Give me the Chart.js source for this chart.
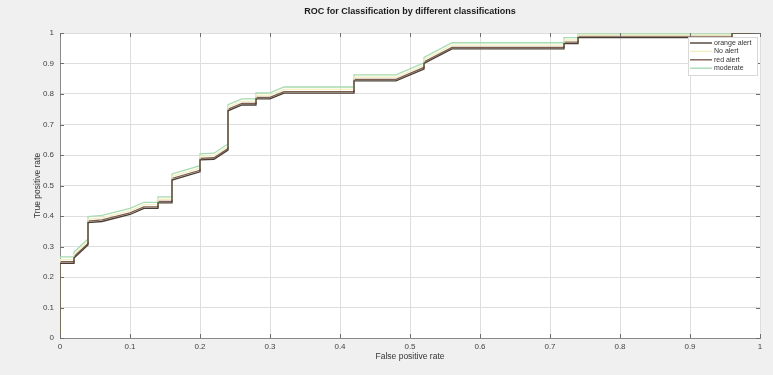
<!DOCTYPE html>
<html>
<head>
<meta charset="utf-8">
<script src="https://cdn.jsdelivr.net/npm/chart.js@4.4.1/dist/chart.umd.min.js"></script>
<style>
  html, body { margin: 0; padding: 0; background: #f0f0f0; }
  #roc { display: block; }
</style>
</head>
<body>
<canvas id="roc" width="773" height="375"></canvas>
<script>
// False positive rate breakpoints shared by the four ROC curves
const fpr = [0, 0, 0.02, 0.02, 0.04, 0.04, 0.06, 0.10, 0.12, 0.14, 0.14, 0.16, 0.16, 0.20, 0.20, 0.22, 0.24, 0.24, 0.26, 0.28,
             0.28, 0.30, 0.32, 0.42, 0.42, 0.48, 0.52, 0.52, 0.56, 0.72, 0.72, 0.74, 0.74, 0.96, 0.96, 1.0];

// True positive rate of each class
const tprOrangeAlert = [0, 0.245, 0.245, 0.262, 0.305, 0.378, 0.382, 0.405, 0.425, 0.425, 0.443, 0.443, 0.518, 0.545, 0.584, 0.586, 0.616, 0.745, 0.764, 0.764,
                        0.784, 0.784, 0.803, 0.803, 0.843, 0.843, 0.882, 0.900, 0.948, 0.948, 0.965, 0.965, 0.985, 0.985, 1.0, 1.0];
const tprNoAlert     = [0, 0.257, 0.257, 0.274, 0.317, 0.390, 0.394, 0.417, 0.437, 0.437, 0.455, 0.455, 0.530, 0.557, 0.596, 0.598, 0.628, 0.757, 0.776, 0.776,
                        0.796, 0.796, 0.815, 0.815, 0.855, 0.855, 0.894, 0.912, 0.960, 0.960, 0.977, 0.977, 0.993, 0.993, 1.0, 1.0];
const tprRedAlert    = [0, 0.250, 0.250, 0.267, 0.310, 0.383, 0.387, 0.410, 0.430, 0.430, 0.448, 0.448, 0.523, 0.550, 0.589, 0.591, 0.621, 0.750, 0.769, 0.769,
                        0.789, 0.789, 0.808, 0.808, 0.848, 0.848, 0.887, 0.905, 0.953, 0.953, 0.970, 0.970, 0.990, 0.990, 1.0, 1.0];
const tprModerate    = [0, 0.266, 0.266, 0.282, 0.325, 0.398, 0.402, 0.425, 0.445, 0.445, 0.463, 0.463, 0.538, 0.565, 0.604, 0.606, 0.636, 0.765, 0.784, 0.784,
                        0.804, 0.804, 0.823, 0.823, 0.863, 0.863, 0.902, 0.920, 0.968, 0.968, 0.985, 0.985, 0.997, 0.997, 1.0, 1.0];

const classNames = ['orange alert', 'No alert', 'red alert', 'moderate'];
const classColors = ['#4a3e34', '#f3efc2', '#7d5e4e', '#a6dcb0'];
const tickValues = [0, 0.1, 0.2, 0.3, 0.4, 0.5, 0.6, 0.7, 0.8, 0.9, 1];

const chartTitle = 'ROC for Classification by different classifications';
const xTitle = 'False positive rate';
const yTitle = 'True positive rate';

const FONT = '"Liberation Sans", Arial, Helvetica, sans-serif';

function toPoints(ys) {
  return fpr.map((x, i) => ({ x: x, y: ys[i] }));
}

const seriesValues = [tprOrangeAlert, tprNoAlert, tprRedAlert, tprModerate];
const datasets = classNames.map((name, i) => ({
  label: name,
  data: toPoints(seriesValues[i]),
  borderColor: classColors[i],
  backgroundColor: classColors[i],
  borderWidth: 1.3,
  pointRadius: 0,
  tension: 0,
  fill: false
}));

function fmtTick(v) {
  if (Math.abs(v) < 1e-9) return '0';
  if (Math.abs(v - 1) < 1e-9) return '1';
  return String(Math.round(v * 10) / 10);
}

// Figure frame: grey figure background, white axes, inward ticks, titles and legend box
const figurePlugin = {
  id: 'figureFrame',
  beforeDraw(chart) {
    const { ctx, chartArea: a } = chart;
    ctx.save();
    ctx.fillStyle = '#f0f0f0';
    ctx.fillRect(0, 0, chart.width, chart.height);
    ctx.fillStyle = '#ffffff';
    ctx.fillRect(a.left, a.top, a.right - a.left, a.bottom - a.top);
    ctx.restore();
  },
  afterDraw(chart) {
    const { ctx, chartArea: a, scales } = chart;
    ctx.save();
    // inward tick marks on all four sides
    ctx.strokeStyle = '#6e6e6e';
    ctx.lineWidth = 1;
    const tl = 4;
    tickValues.forEach(v => {
      const px = Math.round(scales.x.getPixelForValue(v)) + 0.5;
      const py = Math.round(scales.y.getPixelForValue(v)) + 0.5;
      ctx.beginPath();
      ctx.moveTo(px, a.bottom); ctx.lineTo(px, a.bottom - tl);
      ctx.moveTo(px, a.top); ctx.lineTo(px, a.top + tl);
      ctx.moveTo(a.left, py); ctx.lineTo(a.left + tl, py);
      ctx.moveTo(a.right, py); ctx.lineTo(a.right - tl, py);
      ctx.stroke();
    });

    const cx = (a.left + a.right) / 2;
    ctx.fillStyle = '#1a1a1a';
    ctx.textAlign = 'center';
    ctx.textBaseline = 'middle';
    ctx.font = 'bold 9px ' + FONT;
    ctx.fillText(chartTitle, cx, 12);

    ctx.fillStyle = '#333333';
    ctx.font = '8.5px ' + FONT;
    ctx.fillText(xTitle, cx, 357);

    ctx.save();
    ctx.translate(38, (a.top + a.bottom) / 2);
    ctx.rotate(-Math.PI / 2);
    ctx.fillText(yTitle, 0, 0);
    ctx.restore();

    // legend
    const lx = 688, ly = 37, lw = 69, lh = 38;
    ctx.fillStyle = '#ffffff';
    ctx.fillRect(lx, ly, lw, lh);
    ctx.strokeStyle = '#d8d8d8';
    ctx.strokeRect(lx + 0.5, ly + 0.5, lw, lh);
    ctx.font = '7px ' + FONT;
    ctx.textAlign = 'left';
    chart.data.datasets.forEach((ds, i) => {
      const y = ly + 6 + i * 8.4;
      ctx.strokeStyle = ds.borderColor;
      ctx.lineWidth = 1.4;
      ctx.beginPath();
      ctx.moveTo(lx + 2, y); ctx.lineTo(lx + 24, y);
      ctx.stroke();
      ctx.fillStyle = '#333333';
      ctx.fillText(ds.label, lx + 26, y);
    });
    ctx.restore();
  }
};

new Chart(document.getElementById('roc'), {
  type: 'line',
  data: { datasets: datasets },
  options: {
    responsive: false,
    animation: false,
    devicePixelRatio: 1,
    layout: { padding: { top: 33, right: 13, left: 0, bottom: 0 } },
    plugins: {
      legend: { display: false },
      title: { display: false },
      tooltip: { enabled: false }
    },
    scales: {
      x: {
        type: 'linear',
        min: 0, max: 1,
        afterBuildTicks(scale) { scale.ticks = tickValues.map(v => ({ value: v })); },
        afterFit(scale) { scale.height = 37; },
        ticks: {
          callback: fmtTick,
          font: { family: FONT, size: 8 },
          color: '#444444',
          padding: 4,
          maxRotation: 0,
          autoSkip: false
        },
        grid: { color: '#dedede', drawTicks: false, lineWidth: 1 },
        border: { color: '#8a8a8a', width: 1 }
      },
      y: {
        type: 'linear',
        min: 0, max: 1,
        afterBuildTicks(scale) { scale.ticks = tickValues.map(v => ({ value: v })); },
        afterFit(scale) { scale.width = 60; },
        ticks: {
          callback: fmtTick,
          font: { family: FONT, size: 8 },
          color: '#444444',
          padding: 6,
          autoSkip: false
        },
        grid: { color: '#dedede', drawTicks: false, lineWidth: 1 },
        border: { color: '#8a8a8a', width: 1 }
      }
    }
  },
  plugins: [figurePlugin]
});
</script>
</body>
</html>
